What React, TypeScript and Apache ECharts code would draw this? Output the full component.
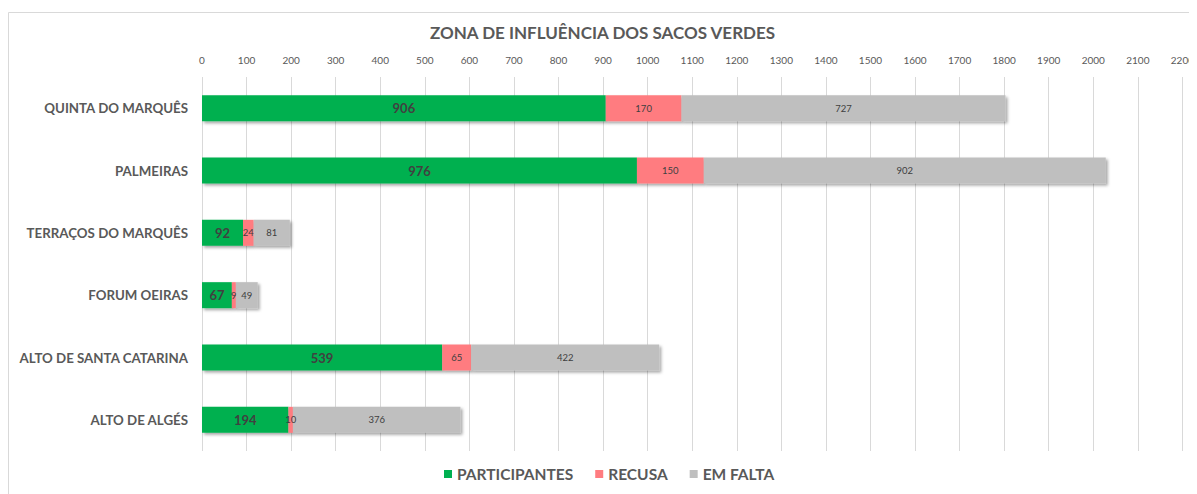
import React, { useEffect, useRef } from "react";
import * as echarts from "echarts";

const categories = [
  "QUINTA DO MARQUÊS",
  "PALMEIRAS",
  "TERRAÇOS DO MARQUÊS",
  "FORUM OEIRAS",
  "ALTO DE SANTA CATARINA",
  "ALTO DE ALGÉS",
];
const participantes = [906, 976, 92, 67, 539, 194];
const recusa = [170, 150, 24, 9, 65, 10];
const emFalta = [727, 902, 81, 49, 422, 376];

const FONT = "Lato";
const shadow = {
  shadowBlur: 3,
  shadowOffsetX: 2,
  shadowOffsetY: 2,
  shadowColor: "rgba(0,0,0,0.35)",
};

export default function App() {
  const ref = useRef<HTMLDivElement>(null);
  useEffect(() => {
    const chart = echarts.init(ref.current!, null, { renderer: "svg" });
    chart.setOption({
      animation: false,
      backgroundColor: "#fff",
      textStyle: { fontFamily: FONT },
      title: {
        text: "ZONA DE INFLUÊNCIA DOS SACOS VERDES",
        left: "center",
        top: 11,
        textStyle: { fontFamily: FONT, fontSize: 17, fontWeight: "bold", color: "#595959" },
      },
      graphic: [
        {
          type: "rect",
          shape: { x: 0.5, y: 4.5, width: 1188, height: 490 },
          style: { fill: "none", stroke: "#d9d9d9", lineWidth: 1 },
          silent: true,
        },
      ],
      legend: {
        bottom: 7,
        left: 431,
        itemWidth: 8,
        itemHeight: 8,
        itemGap: 22,
        icon: "rect",
        textStyle: { fontFamily: FONT, fontSize: 15.5, fontWeight: "bold", color: "#595959" },
        data: ["PARTICIPANTES", "RECUSA", "EM FALTA"],
      },
      grid: { left: 194, right: 11, top: 69, bottom: 43, containLabel: false },
      xAxis: {
        type: "value",
        position: "top",
        min: 0,
        max: 2200,
        interval: 100,
        axisLine: { show: false },
        axisTick: { show: false },
        axisLabel: {
          fontFamily: FONT,
          fontSize: 10,
          color: "#595959",
          margin: 12,
          formatter: (v: number) => String(v),
        },
        splitLine: { show: true, lineStyle: { color: "#d9d9d9", width: 1 } },
      },
      yAxis: {
        type: "category",
        inverse: true,
        data: categories,
        axisLine: { show: false },
        axisTick: { show: false },
        axisLabel: { fontFamily: FONT, fontSize: 13.3, fontWeight: "bold", color: "#595959", margin: 14 },
      },
      series: [
        {
          name: "PARTICIPANTES",
          type: "bar",
          stack: "total",
          barWidth: 26,
          data: participantes,
          itemStyle: { color: "#00B050", ...shadow },
          label: { show: true, position: "inside", fontFamily: FONT, fontSize: 13, fontWeight: "bold", color: "#404040" },
        },
        {
          name: "RECUSA",
          type: "bar",
          stack: "total",
          barWidth: 26,
          data: recusa,
          itemStyle: { color: "#FF7C80", ...shadow },
          label: { show: true, position: "inside", fontFamily: FONT, fontSize: 9.5, color: "#404040" },
        },
        {
          name: "EM FALTA",
          type: "bar",
          stack: "total",
          barWidth: 26,
          data: emFalta,
          itemStyle: { color: "#BFBFBF", ...shadow },
          label: { show: true, position: "inside", fontFamily: FONT, fontSize: 9.5, color: "#404040" },
        },
      ],
    });
    return () => chart.dispose();
  }, []);
  return <div ref={ref} style={{ width: 1189, height: 486 }} />;
}
